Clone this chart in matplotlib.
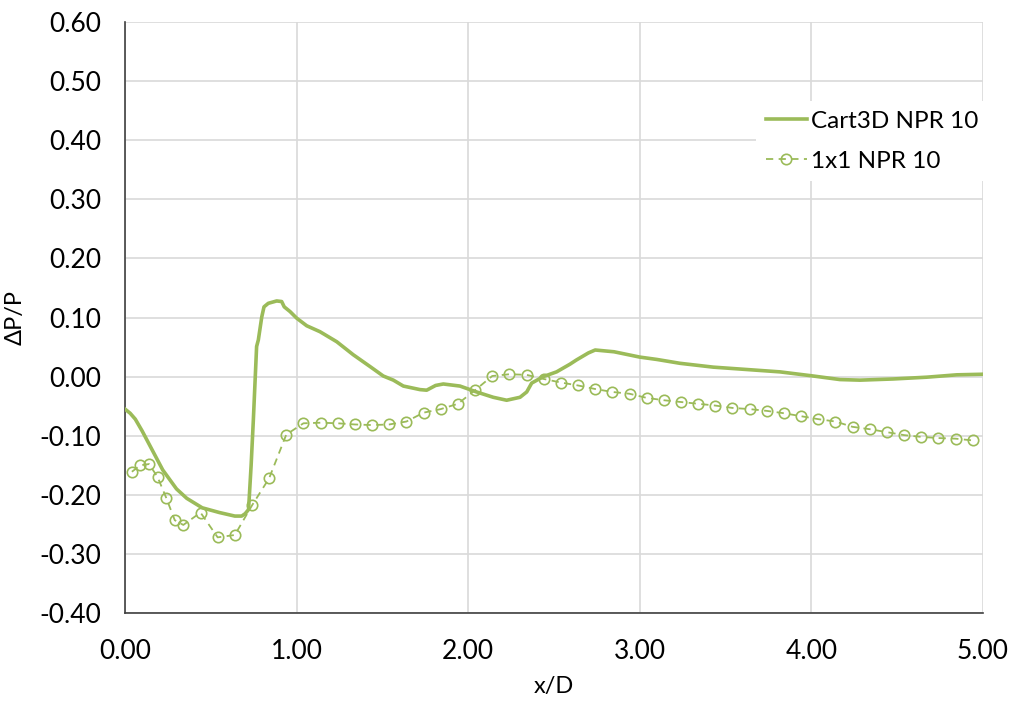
import matplotlib.pyplot as plt

plt.rcParams['font.family'] = ['Lato', 'DejaVu Sans']

# Cart3D NPR 10 (solid line)
cart_x = [0.00, 0.03, 0.06, 0.10, 0.16, 0.22, 0.30, 0.36, 0.45, 0.55, 0.64, 0.68, 0.70,
          0.72, 0.735, 0.748, 0.767, 0.777, 0.797, 0.810, 0.835, 0.884, 0.913, 0.928,
          0.962, 1.00, 1.059, 1.136, 1.234, 1.330, 1.428, 1.505, 1.564, 1.622, 1.719,
          1.758, 1.81, 1.855, 1.952, 2.049, 2.146, 2.224, 2.302, 2.341, 2.37, 2.438,
          2.515, 2.593, 2.63, 2.70, 2.74, 2.85, 3.00, 3.10, 3.234, 3.428, 3.623, 3.817,
          4.011, 4.166, 4.283, 4.477, 4.672, 4.847, 5.00]
cart_y = [-0.055, -0.062, -0.072, -0.092, -0.125, -0.158, -0.190, -0.206, -0.222, -0.230,
          -0.236, -0.236, -0.232, -0.225, -0.150, -0.073, 0.051, 0.062, 0.101, 0.118,
          0.124, 0.128, 0.127, 0.118, 0.110, 0.099, 0.086, 0.076, 0.059, 0.037, 0.017,
          0.001, -0.006, -0.016, -0.022, -0.023, -0.015, -0.0125, -0.016, -0.026, -0.035,
          -0.040, -0.035, -0.026, -0.011, 0.000, 0.008, 0.021, 0.028, 0.040, 0.045,
          0.042, 0.033, 0.029, 0.0225, 0.016, 0.012, 0.008, 0.001, -0.005, -0.006,
          -0.004, -0.001, 0.003, 0.004]

# 1x1 NPR 10 (dashed line with open circles)
exp_x = [0.04, 0.09, 0.14, 0.19, 0.24, 0.29, 0.34, 0.44, 0.54, 0.64, 0.74, 0.84, 0.94,
         1.04, 1.14, 1.24, 1.34, 1.44, 1.54, 1.64, 1.74, 1.84, 1.94, 2.04, 2.14, 2.24,
         2.34, 2.44, 2.54, 2.64, 2.74, 2.84, 2.94, 3.04, 3.14, 3.24, 3.34, 3.44, 3.54,
         3.64, 3.74, 3.84, 3.94, 4.04, 4.14, 4.24, 4.34, 4.44, 4.54, 4.64, 4.74, 4.84,
         4.94]
exp_y = [-0.161, -0.150, -0.148, -0.170, -0.205, -0.243, -0.251, -0.230, -0.272, -0.268,
         -0.218, -0.172, -0.098, -0.079, -0.078, -0.079, -0.081, -0.082, -0.081, -0.076,
         -0.061, -0.055, -0.046, -0.023, 0.001, 0.004, 0.003, -0.004, -0.010, -0.015,
         -0.021, -0.026, -0.029, -0.036, -0.040, -0.043, -0.046, -0.049, -0.053, -0.055,
         -0.058, -0.062, -0.067, -0.072, -0.076, -0.085, -0.089, -0.094, -0.099, -0.102,
         -0.104, -0.105, -0.108]

x_ticks = [0, 1, 2, 3, 4, 5]
y_ticks = [-0.4, -0.3, -0.2, -0.1, 0.0, 0.1, 0.2, 0.3, 0.4, 0.5, 0.6]

green = '#9BBB59'

fig = plt.figure(figsize=(10.14, 7.05), dpi=100)
ax = fig.add_axes([125 / 1014, 1 - 613 / 705, 858 / 1014, 591 / 705])

ax.plot(cart_x, cart_y, color=green, lw=2.6, label='Cart3D NPR 10', zorder=3)
ax.plot(exp_x, exp_y, color=green, lw=1.3, ls=(0, (4, 3)), marker='o', ms=7.5,
        mfc='none', mec=green, mew=1.2, label='1x1 NPR 10', zorder=3)

ax.set_xlim(0, 5)
ax.set_ylim(-0.4, 0.6)
ax.set_xticks(x_ticks)
ax.set_yticks(y_ticks)
ax.set_xticklabels(['%.2f' % v for v in x_ticks])
ax.set_yticklabels(['%.2f' % v for v in y_ticks])
ax.tick_params(length=0, labelsize=19, colors='#000000')
ax.tick_params(axis='x', pad=19)
ax.tick_params(axis='y', pad=17)

ax.grid(True, color='#D9D9D9', lw=1.2)
ax.set_axisbelow(True)
for s in ['top', 'right']:
    ax.spines[s].set_visible(False)
for s in ['left', 'bottom']:
    ax.spines[s].set_color('#404040')
    ax.spines[s].set_linewidth(1.2)

ax.set_xlabel('x/D', fontsize=17, labelpad=8)
ax.set_ylabel('ΔP/P', fontsize=17, labelpad=10)

leg = ax.legend(loc='upper left', bbox_to_anchor=(756 / 1014, 1 - 101 / 705),
                bbox_transform=fig.transFigure, fontsize=17.5, frameon=True,
                fancybox=False, framealpha=1, handlelength=1.7, handletextpad=0.15,
                borderaxespad=0, labelspacing=0.78)
leg.get_frame().set_edgecolor('none')
leg.get_frame().set_facecolor('white')

fig.savefig('out.png', dpi=100)
